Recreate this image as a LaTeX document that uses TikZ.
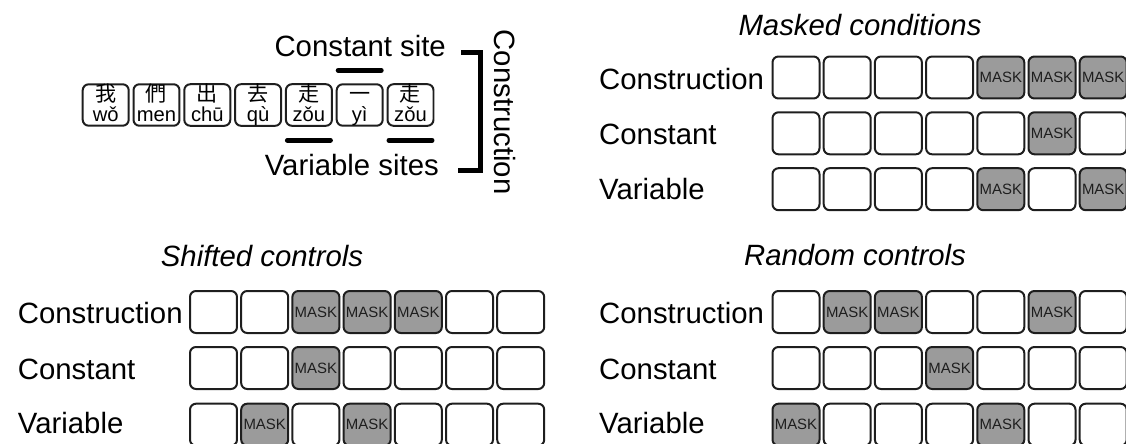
\documentclass[tikz,border=0pt]{standalone}
\usepackage{fontspec}
\setmainfont{Liberation Sans}
\newfontfamily\cjk{Noto Sans CJK TC}
\definecolor{maskgray}{RGB}{155,155,155}
\definecolor{edge}{RGB}{30,30,30}
\newcommand{\zi}[2]{{\cjk\fontsize{12}{11.2}\selectfont\vphantom{我}#1}\\\vphantom{ǒy}#2}
\tikzset{
	cell/.style={draw=edge, line width=0.04cm, rounded corners=0.12cm, minimum width=0.94cm, minimum height=0.84cm, inner sep=0pt},
	mask/.style={cell, fill=maskgray, text=edge, font=\fontsize{8.5}{8.5}\selectfont},
	word/.style={cell, minimum width=0.92cm, minimum height=0.81cm, align=center, font=\fontsize{11.5}{11.2}\selectfont},
	lbl/.style={anchor=base west, font=\fontsize{16.7}{20}\selectfont},
	ttl/.style={anchor=base, font=\fontsize{16.7}{20}\selectfont\itshape},
	bar/.style={line width=0.1cm, line cap=round},
	brack/.style={line width=0.1cm}
}
\begin{document}
\begin{tikzpicture}[x=0.02cm, y=-0.02cm]
		\useasboundingbox (0, 0) rectangle (1126, 443);

		\node[word] (w1) at(105.7, 105){\zi{我}{wǒ}};
		\node[word] (w2) at(156.5, 105){\zi{們}{men}};
		\node[word] (w3) at(207.3, 105){\zi{出}{chū}};
		\node[word] (w4) at(258.1, 105){\zi{去}{qù}};
		\node[word] (w5) at(308.9, 105){\zi{走}{zǒu}};
		\node[word] (w6) at(359.7, 105){\zi{一}{yì}};
		\node[word] (w7) at(410.5, 105){\zi{走}{zǒu}};
			\draw[bar] ([xshift=0.05cm, yshift=0.26cm]w6.north west) to ([xshift=-0.05cm, yshift=0.26cm]w6.north east);
			\draw[bar] ([xshift=0.05cm, yshift=-0.27cm]w5.south west) to ([xshift=-0.05cm, yshift=-0.27cm]w5.south east);
			\draw[bar] ([xshift=0.05cm, yshift=-0.27cm]w7.south west) to ([xshift=-0.05cm, yshift=-0.27cm]w7.south east);
		\node[anchor=base east, font=\fontsize{16.7}{20}\selectfont] (csite) at(452, 56.7){Constant site};
		\node[anchor=base east, font=\fontsize{16.7}{20}\selectfont] (vsite) at(445, 175){Variable sites};
		\coordinate (brk) at(480, 110);
			\draw[brack] ([xshift=0.18cm]csite.mid east) -| (brk) |- ([xshift=0.26cm]vsite.mid east);
		\node[rotate=-90, anchor=base, font=\fontsize{16.7}{20}\selectfont] (constr) at(494, 112){Construction};

		\node[ttl] (mtitle) at(860, 35){Masked conditions};
		\node[lbl] (mlab1) at(593, 89.3){Construction};
		\node[lbl] (mlab2) at(593, 144){Constant};
		\node[lbl] (mlab3) at(593, 199.3){Variable};
			\node[cell] (mc11) at(796, 77.5){};
			\node[cell] (mc12) at(847.2, 77.5){};
			\node[cell] (mc13) at(898.4, 77.5){};
			\node[cell] (mc14) at(949.6, 77.5){};
			\node[mask] (mc15) at(1000.8, 77.5){MASK};
			\node[mask] (mc16) at(1052, 77.5){MASK};
			\node[mask] (mc17) at(1103.2, 77.5){MASK};
			\node[cell] (mc21) at(796, 133.3){};
			\node[cell] (mc22) at(847.2, 133.3){};
			\node[cell] (mc23) at(898.4, 133.3){};
			\node[cell] (mc24) at(949.6, 133.3){};
			\node[cell] (mc25) at(1000.8, 133.3){};
			\node[mask] (mc26) at(1052, 133.3){MASK};
			\node[cell] (mc27) at(1103.2, 133.3){};
			\node[cell] (mc31) at(796, 189.2){};
			\node[cell] (mc32) at(847.2, 189.2){};
			\node[cell] (mc33) at(898.4, 189.2){};
			\node[cell] (mc34) at(949.6, 189.2){};
			\node[mask] (mc35) at(1000.8, 189.2){MASK};
			\node[cell] (mc36) at(1052, 189.2){};
			\node[mask] (mc37) at(1103.2, 189.2){MASK};

		\node[ttl] (stitle) at(262, 266){Shifted controls};
		\node[lbl] (slab1) at(11.7, 323.3){Construction};
		\node[lbl] (slab2) at(11.7, 379){Constant};
		\node[lbl] (slab3) at(11.7, 433.3){Variable};
			\node[cell] (sc11) at(213.5, 312){};
			\node[cell] (sc12) at(264.7, 312){};
			\node[mask] (sc13) at(315.9, 312){MASK};
			\node[mask] (sc14) at(367.1, 312){MASK};
			\node[mask] (sc15) at(418.3, 312){MASK};
			\node[cell] (sc16) at(469.5, 312){};
			\node[cell] (sc17) at(520.7, 312){};
			\node[cell] (sc21) at(213.5, 368){};
			\node[cell] (sc22) at(264.7, 368){};
			\node[mask] (sc23) at(315.9, 368){MASK};
			\node[cell] (sc24) at(367.1, 368){};
			\node[cell] (sc25) at(418.3, 368){};
			\node[cell] (sc26) at(469.5, 368){};
			\node[cell] (sc27) at(520.7, 368){};
			\node[cell] (sc31) at(213.5, 424.7){};
			\node[mask] (sc32) at(264.7, 424.7){MASK};
			\node[cell] (sc33) at(315.9, 424.7){};
			\node[mask] (sc34) at(367.1, 424.7){MASK};
			\node[cell] (sc35) at(418.3, 424.7){};
			\node[cell] (sc36) at(469.5, 424.7){};
			\node[cell] (sc37) at(520.7, 424.7){};

		\node[ttl] (rtitle) at(855, 265){Random controls};
		\node[lbl] (rlab1) at(593, 323){Construction};
		\node[lbl] (rlab2) at(593, 379){Constant};
		\node[lbl] (rlab3) at(593, 433.3){Variable};
			\node[cell] (rc11) at(796, 312){};
			\node[mask] (rc12) at(847.2, 312){MASK};
			\node[mask] (rc13) at(898.4, 312){MASK};
			\node[cell] (rc14) at(949.6, 312){};
			\node[cell] (rc15) at(1000.8, 312){};
			\node[mask] (rc16) at(1052, 312){MASK};
			\node[cell] (rc17) at(1103.2, 312){};
			\node[cell] (rc21) at(796, 368){};
			\node[cell] (rc22) at(847.2, 368){};
			\node[cell] (rc23) at(898.4, 368){};
			\node[mask] (rc24) at(949.6, 368){MASK};
			\node[cell] (rc25) at(1000.8, 368){};
			\node[cell] (rc26) at(1052, 368){};
			\node[cell] (rc27) at(1103.2, 368){};
			\node[mask] (rc31) at(796, 424.7){MASK};
			\node[cell] (rc32) at(847.2, 424.7){};
			\node[cell] (rc33) at(898.4, 424.7){};
			\node[cell] (rc34) at(949.6, 424.7){};
			\node[mask] (rc35) at(1000.8, 424.7){MASK};
			\node[cell] (rc36) at(1052, 424.7){};
			\node[cell] (rc37) at(1103.2, 424.7){};
	\end{tikzpicture}
\end{document}
